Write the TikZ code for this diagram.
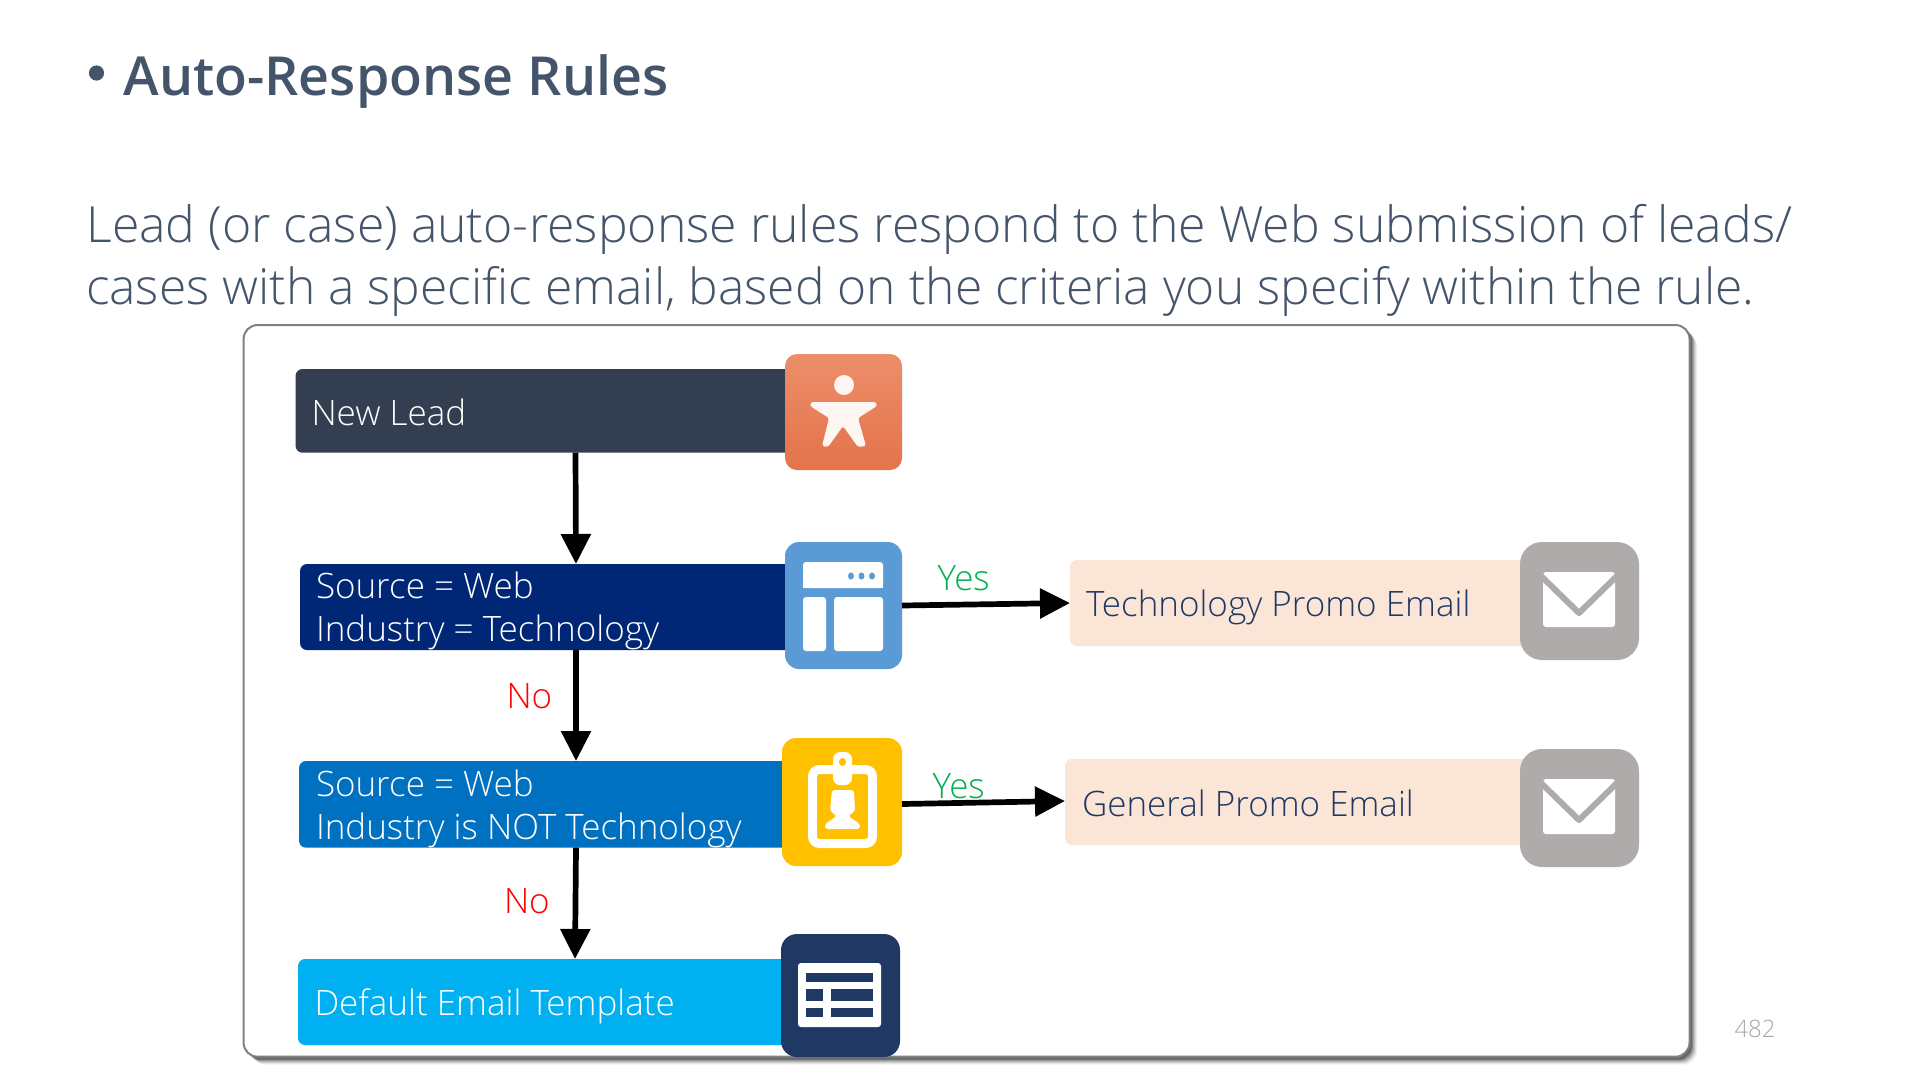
\documentclass[tikz,border=0pt]{standalone}
\usepackage{fontspec}
\setmainfont[UprightFont=* Light,BoldFont=* Semibold]{Open Sans}
\usetikzlibrary{arrows.meta}
\definecolor{titlec}{HTML}{44546A}
\definecolor{darkslate}{HTML}{333F50}
\definecolor{navyb}{HTML}{002776}
\definecolor{midb}{HTML}{0070C0}
\definecolor{skyb}{HTML}{00B0F0}
\definecolor{peach}{HTML}{FBE5D6}
\definecolor{graybox}{HTML}{AFABAB}
\definecolor{inkblue}{HTML}{203864}
\definecolor{iconblue}{HTML}{5B9BD5}
\definecolor{iconyellow}{HTML}{FFC000}
\definecolor{okgreen}{HTML}{00B050}
\definecolor{orangetop}{HTML}{EC8E6A}
\definecolor{orangebot}{HTML}{E4734A}
\tikzset{
  txt/.style={anchor=base west,inner sep=0pt,outer sep=0pt},
  body/.style={txt,font=\fontsize{35}{40}\selectfont},
  wbody/.style={body,text=white},
  rule box/.style={rectangle,rounded corners=7pt,inner sep=0pt,outer sep=0pt,anchor=north west},
  icon/.style={rectangle,inner sep=0pt,outer sep=0pt,anchor=north west},
  flow/.style={line width=5.7pt,-{Triangle[length=30pt,width=29pt]},black},
}
\newcommand{\mailglyph}[2]{% x offset left, y top
  \begin{scope}[shift={(#1,#2)}]
    \fill[white,rounded corners=3pt] (0,0) rectangle (72,55);
    \draw[graybox,line width=6pt,line join=round] (-3,3) -- (36,41) -- (75,3);
  \end{scope}}
\begin{document}
\begin{tikzpicture}[x=1pt,y=-1pt]
\useasboundingbox (0,0) rectangle (1920,1080);
% heading
\fill[titlec] (96.5,73) circle (7.6pt);
\node[txt,text=titlec,font=\bfseries\fontsize{53.8}{60}\selectfont] (title) at (123.5,95) {Auto-Response Rules};
\node[txt,text=titlec,font=\fontsize{49.9}{60}\selectfont] (para1) at (86.5,242.3) {Lead (or case) auto-response rules respond to the Web submission of leads/};
\node[txt,text=titlec,font=\fontsize{49.7}{60}\selectfont] (para2) at (86,304.3) {cases with a specific email, based on the criteria you specify within the rule.};
% panel with soft shadow
\foreach \o/\a in {8/0.06,7/0.08,6/0.10,5/0.14,4/0.18,3/0.25}{
  \fill[black,opacity=\a,rounded corners=14pt] (243.6+\o,324+\o) rectangle (1689+\o,1056.7+\o);
}
\draw[draw=black!50,fill=white,line width=2pt,rounded corners=14pt] (243.6,325) rectangle (1689.5,1056.7);
% rule boxes
\node[rule box,fill=darkslate,minimum width=560pt,minimum height=83.7pt] (lead) at (295.5,369) {};
\node[rule box,fill=navyb,minimum width=552pt,minimum height=86pt] (srca) at (300,564) {};
\node[rule box,fill=midb,minimum width=554pt,minimum height=86.7pt] (srcb) at (299,761) {};
\node[rule box,fill=skyb,minimum width=554pt,minimum height=86pt] (deftpl) at (298,959) {};
\node[rule box,fill=peach,minimum width=500pt,minimum height=86pt] (techmail) at (1070,560) {};
\node[rule box,fill=peach,minimum width=500pt,minimum height=86pt] (genmail) at (1065,759) {};
% icon tiles
\node[icon,rounded corners=12pt,top color=orangetop,bottom color=orangebot,minimum width=117pt,minimum height=116pt] (leadicon) at (785,354) {};
\node[icon,rounded corners=14pt,fill=iconblue,minimum width=117pt,minimum height=127pt] (webicon) at (785,542) {};
\node[icon,rounded corners=14pt,fill=iconyellow,minimum width=120pt,minimum height=128pt] (badgeicon) at (782,738) {};
\node[icon,rounded corners=16pt,fill=inkblue,minimum width=119pt,minimum height=123pt] (tableicon) at (781,934) {};
\node[icon,rounded corners=22pt,fill=graybox,minimum width=119pt,minimum height=118pt] (mailicona) at (1520,542) {};
\node[icon,rounded corners=22pt,fill=graybox,minimum width=119pt,minimum height=118pt] (mailiconb) at (1520,749) {};
% person glyph
\fill[white!92!orangetop] (844,385) ellipse (10pt and 10pt);
\fill[white!92!orangetop,rounded corners=2.5pt] (811,402) -- (876,402) -- (877,406) -- (858,418) -- (866,446) -- (858,447) -- (843,426) -- (828,447) -- (822,446) -- (829,418) -- (810,406) -- cycle;
% web layout glyph
\fill[white,rounded corners=3pt] (803,562) -- (883,562) -- (883,588) -- (803,588) -- cycle;
\fill[white] (803,566) rectangle (883,588);
\foreach \dx in {851,861.5,872}{\fill[iconblue] (\dx,576) ellipse (3pt and 3.6pt);}
\fill[white,rounded corners=3pt] (803,597) rectangle (826,651);
\fill[white,rounded corners=3pt] (834,597) rectangle (883,651);
% badge glyph
\draw[white,line width=9pt,rounded corners=7pt] (812.5,769.5) rectangle (872.5,843.5);
\fill[white,rounded corners=7pt] (833,752) rectangle (852,785);
\fill[iconyellow] (842.5,762) ellipse (3.6pt and 4pt);
\fill[white,rounded corners=3pt] (832,790) -- (854,790) -- (855,811) -- (848,816) -- (860,824) -- (860,829) -- (825,829) -- (825,824) -- (837,816) -- (830,811) -- cycle;
% table glyph
\fill[white,rounded corners=3pt] (798,963) rectangle (881,1027);
\fill[inkblue] (806,973) rectangle (873,982);
\fill[inkblue] (806,989) rectangle (823,1001);
\fill[inkblue] (831,989) rectangle (873,1001);
\fill[inkblue] (806,1008) rectangle (823,1017);
\fill[inkblue] (831,1008) rectangle (873,1017);
% envelopes
\mailglyph{1543}{572}
\mailglyph{1543}{779}
% labels
\node[wbody] (leadtxt) at (311.5,425) {New Lead};
\node[wbody] (srca1) at (316,598) {Source = Web};
\node[wbody] (srca2) at (316,641.7) {Industry = Technology};
\node[wbody] (srcb1) at (316,796) {Source = Web};
\node[wbody] (srcb2) at (316,839) {Industry is NOT Technology};
\node[wbody] (deftxt) at (314.5,1015) {Default Email Template};
\node[body,text=inkblue] (techtxt) at (1086,616.7) {Technology Promo Email};
\node[body,text=inkblue] (gentxt) at (1082,816) {General Promo Email};
\node[body,text=red] (noa) at (506.5,708) {No};
\node[body,text=red] (nob) at (504,913) {No};
\node[body,text=okgreen] (yesa) at (937.5,590.7) {Yes};
\node[body,text=okgreen] (yesb) at (932.5,798) {Yes};
\node[txt,text=black!35,font=\fontsize{24}{28}\selectfont] (pageno) at (1734.5,1037.7) {482};
% connectors
\draw[flow] (lead.south) -- (srca.north);
\draw[flow] (srca.south) -- (srcb.north);
\draw[flow] (srcb.south) -- (deftpl.north);
\draw[flow] (webicon.east) -- (techmail.west);
\draw[flow] ([yshift=-2pt]badgeicon.east) -- ([yshift=1pt]genmail.west);
\end{tikzpicture}
\end{document}
